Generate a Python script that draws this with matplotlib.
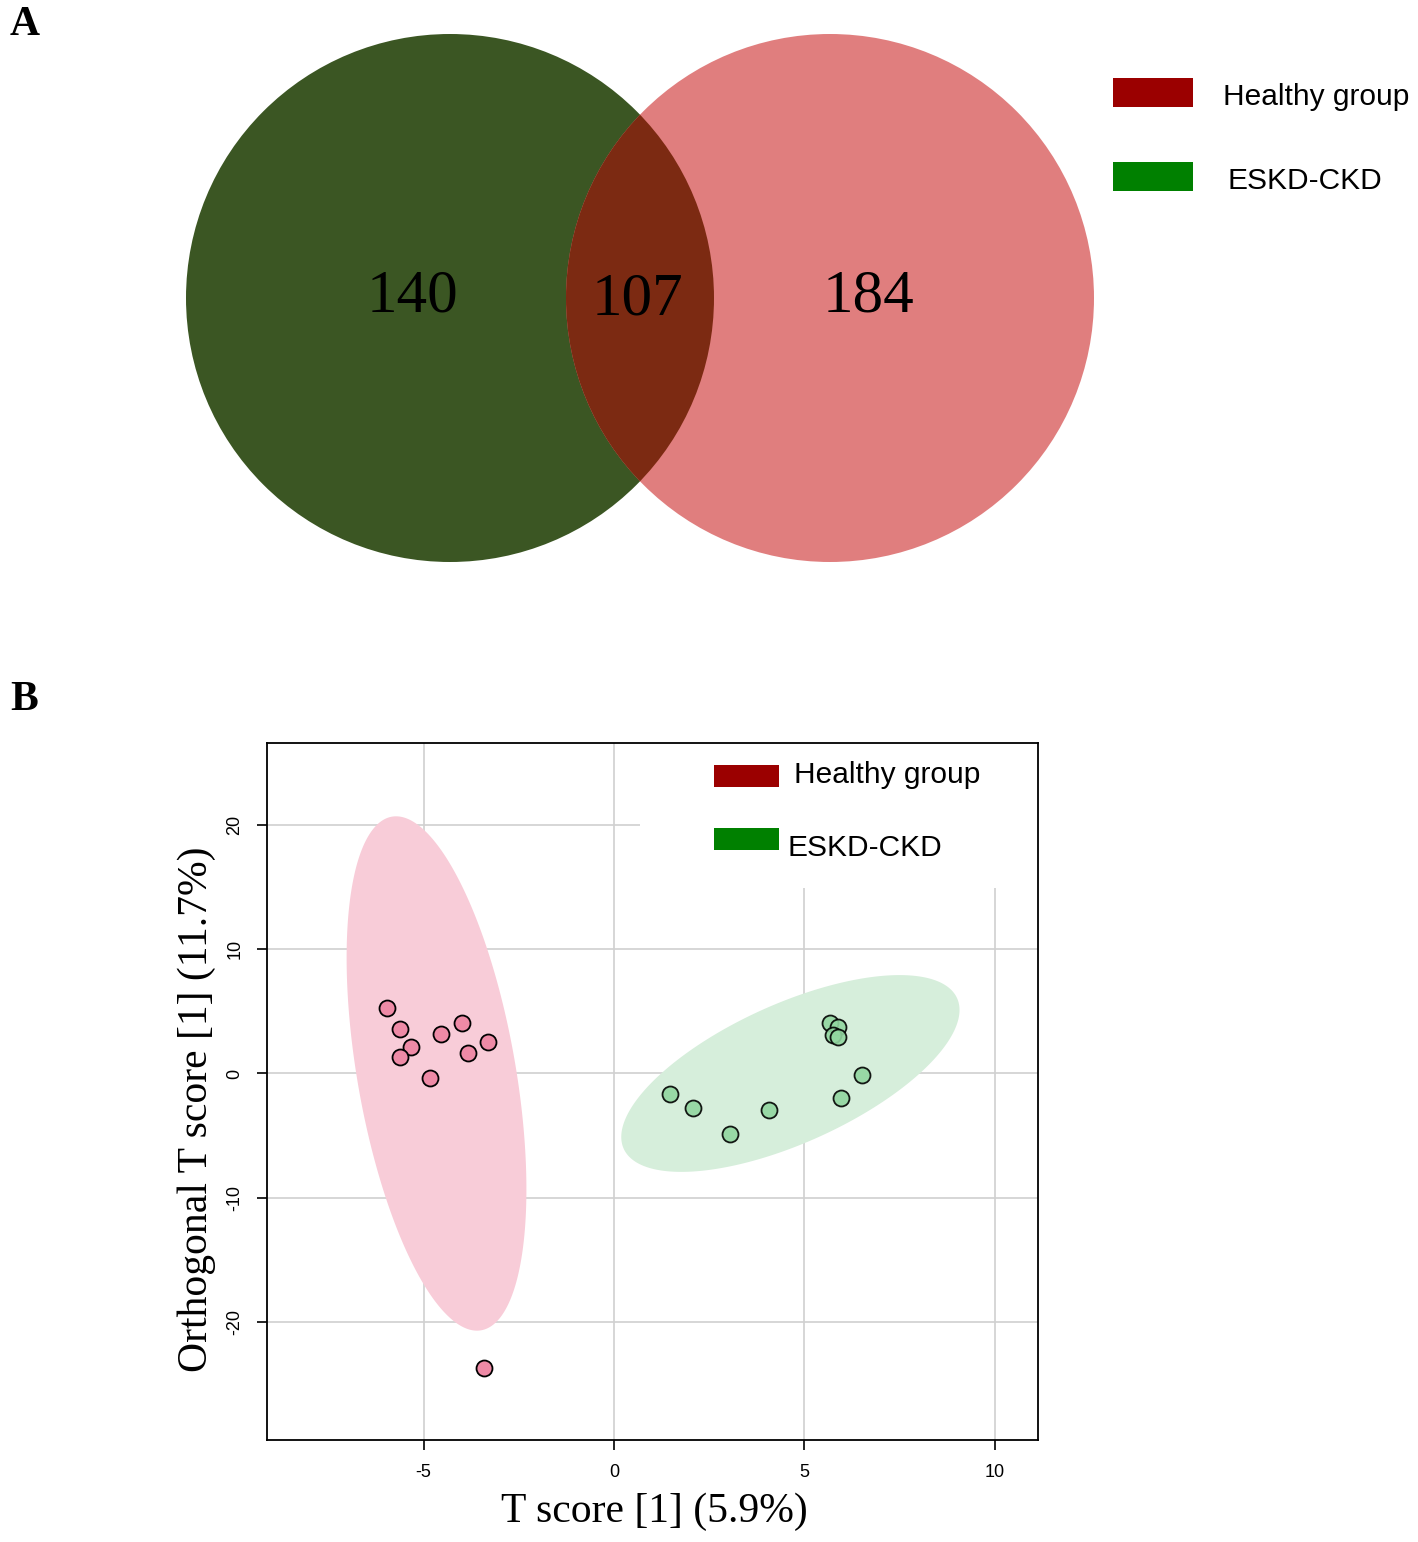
import numpy as np
import matplotlib.pyplot as plt
from matplotlib.patches import Circle, Rectangle

plt.rcParams['axes.unicode_minus'] = False

# Panel A: Venn counts
venn_counts = [140, 107, 184]  # only ESKD-CKD, shared, only healthy
venn_colors = ['#3b5623', '#7c2a12', '#e07e7e']

# Panel B: OPLS-DA scores
healthy_t = [-5.97, -5.61, -5.32, -5.63, -4.55, -4.00, -3.32, -3.84, -4.84, -3.42]
healthy_o = [5.31, 3.62, 2.17, 1.29, 3.14, 4.10, 2.57, 1.61, -0.40, -23.73]
eskd_t = [5.66, 5.87, 5.74, 5.89, 6.50, 5.97, 1.47, 2.08, 4.08, 3.05]
eskd_o = [4.10, 3.78, 3.06, 2.90, -0.16, -2.01, -1.69, -2.74, -2.90, -4.91]

# confidence ellipses: centre, half-width, half-height, correlation
healthy_ell = (-4.66, 0.0, 2.36, 20.7, -0.45)
eskd_ell = (4.63, 0.0, 4.44, 7.92, 0.645)

x_ticks = [-5, 0, 5, 10]
y_ticks = [-20, -10, 0, 10, 20]
legend_labels = ['Healthy group', 'ESKD-CKD']
legend_colors = ['#9b0000', '#008000']

W, H = 1418, 1542
fig = plt.figure(figsize=(W / 100, H / 100), dpi=100)

SANS = 'Liberation Sans'
SERIF = 'Liberation Serif'


def fx(px):
    return px / W


def fy(py):
    return 1 - py / H


# ---------- panel A ----------
axv = fig.add_axes([0, 0, 1, 1])
axv.set_xlim(0, W)
axv.set_ylim(H, 0)
axv.axis('off')

r = 264
cy = 298
left_c, right_c = 450, 830
axv.add_patch(Circle((left_c, cy), r, color=venn_colors[0], lw=0))
axv.add_patch(Circle((right_c, cy), r, color=venn_colors[2], lw=0))
# intersection: clip a second copy of the right circle by the left one
inter = Circle((right_c, cy), r, color=venn_colors[1], lw=0)
clip = Circle((left_c, cy), r, transform=axv.transData)
axv.add_patch(inter)
inter.set_clip_path(clip)

axv.text(412, 297, str(venn_counts[0]), fontsize=44, family=SERIF, ha='center', va='center')
axv.text(637, 300, str(venn_counts[1]), fontsize=44, family=SERIF, ha='center', va='center')
axv.text(868, 297, str(venn_counts[2]), fontsize=44, family=SERIF, ha='center', va='center')

for i, (lab, col) in enumerate(zip(legend_labels, legend_colors)):
    y0 = 78 + i * 84
    axv.add_patch(Rectangle((1113, y0), 80, 29, color=col, lw=0))
    axv.text(1223 + 4 * i, y0 + 19, lab, fontsize=21.5, family=SANS, ha='left', va='center')

fig.text(fx(10), fy(25), 'A', fontsize=30, family=SERIF, fontweight='bold', va='center')
fig.text(fx(10), fy(700), 'B', fontsize=30, family=SERIF, fontweight='bold', va='center')

# ---------- panel B ----------
ax = fig.add_axes([fx(267), fy(1440), (1038 - 267) / W, (1440 - 743) / H])
ax.set_xlim(-9.11, 11.13)
ax.set_ylim(-29.5, 26.6)
ax.set_axisbelow(True)
ax.grid(True, color='#d0d0d0', lw=1.2)
ax.set_xticks(x_ticks)
ax.set_yticks(y_ticks)
ax.tick_params(length=7, width=1.2, labelsize=13, pad=10)
for lab in ax.get_xticklabels() + ax.get_yticklabels():
    lab.set_family(SANS)
for lab in ax.get_yticklabels():
    lab.set_rotation(90)
    lab.set_va('center')
for s in ax.spines.values():
    s.set_linewidth(1.3)

# white block behind the legend hides the grid there
ax.add_patch(Rectangle((0.484, 0.792), 0.516, 0.208, transform=ax.transAxes,
                       facecolor='white', edgecolor='none', zorder=1))

t = np.linspace(0, 2 * np.pi, 300)


def draw_ellipse(params, color):
    cx, cyy, hw, hh, rho = params
    d = np.arccos(rho)
    ax.fill(cx + hw * np.cos(t), cyy + hh * np.cos(t - d), color=color, lw=0, zorder=2)


draw_ellipse(healthy_ell, '#f8ccd8')
draw_ellipse(eskd_ell, '#d6eedb')

ax.plot(healthy_t, healthy_o, 'o', ms=11.5, mfc='#ee8aa6', mec='black', mew=1.3, zorder=3)
ax.plot(eskd_t, eskd_o, 'o', ms=11.5, mfc='#92d6a0', mec='black', mew=1.3, alpha=0.9, zorder=3)

# legend of panel B, drawn on top of the scatter axes
for i, (lab, col) in enumerate(zip(legend_labels, legend_colors)):
    y0 = 765 + i * 63
    fig.add_artist(Rectangle((fx(714), fy(y0 + 22)), 65 / W, 22 / H,
                             transform=fig.transFigure, color=col, lw=0, zorder=5))
    fig.text(fx(794 - 6 * i), fy(y0 + 10 + 10 * i), lab, fontsize=21.5, family=SANS,
             ha='left', va='center', zorder=5)

fig.text(fx(654), fy(1512), 'T score [1] (5.9%)', fontsize=30, family=SERIF,
         ha='center', va='center')
fig.text(fx(197), fy(1109), 'Orthogonal T score [1] (11.7%)', fontsize=30, family=SERIF,
         ha='center', va='center', rotation=90)

fig.savefig('out.png', dpi=100)
